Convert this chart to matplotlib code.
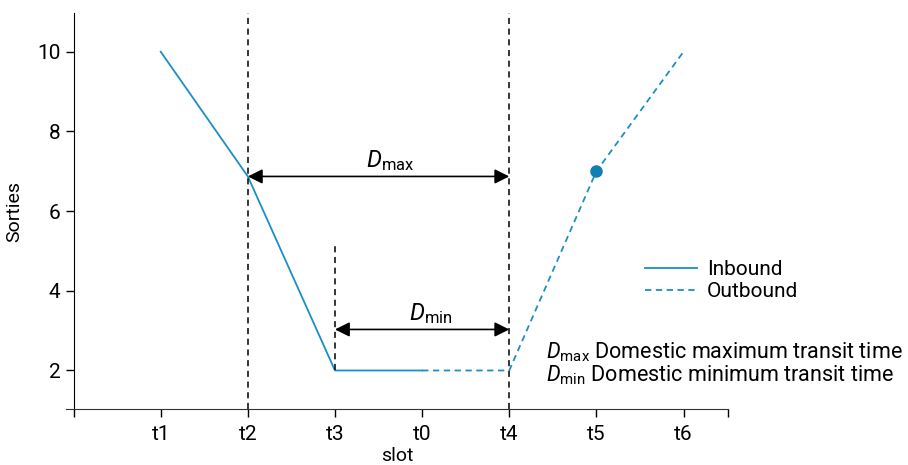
import matplotlib.pyplot as plt

plt.rcParams['font.family'] = ['Roboto', 'DejaVu Sans']
plt.rcParams['mathtext.fontset'] = 'custom'
plt.rcParams['mathtext.rm'] = 'Roboto'
plt.rcParams['mathtext.it'] = 'Roboto:italic'

slots = ['t1', 't2', 't3', 't0', 't4', 't5', 't6']
pos = [1, 2, 3, 4, 5, 6, 7]

# inbound: t1 -> t0, outbound: t0 -> t6
inbound_x = [1, 2, 3, 4]
inbound_y = [10, 6.87, 2, 2]
outbound_x = [4, 5, 6, 7]
outbound_y = [2, 2, 7, 10]
point_x, point_y = 6, 7

dmax_y = 6.87
dmin_y = 3.03
t3_top = 5.12

blue = '#1b8fc4'

fig = plt.figure(figsize=(9.08, 4.65), dpi=100)
ax = fig.add_axes([0.0727, 0.121, 0.729, 0.850])

ax.plot(inbound_x, inbound_y, color=blue, lw=1.3, label='Inbound')
ax.plot(outbound_x, outbound_y, color=blue, lw=1.3, ls=(0, (3.5, 2.5)), label='Outbound')
ax.plot(point_x, point_y, 'o', color='#107fb2', ms=8)

# vertical guides
ax.axvline(2, color='black', lw=1.1, ls=(0, (4, 3)))
ax.axvline(5, color='black', lw=1.1, ls=(0, (4, 3)))
ax.plot([3, 3], [2, t3_top], color='black', lw=1.1, ls=(0, (4, 3)))

arr = dict(arrowstyle='<|-|>', color='black', lw=1.2, mutation_scale=22, shrinkA=0, shrinkB=0)
ax.annotate('', xy=(2, dmax_y), xytext=(5, dmax_y), arrowprops=arr)
ax.annotate('', xy=(3, dmin_y), xytext=(5, dmin_y), arrowprops=arr)
ax.text(3.63, dmax_y + 0.08, r'$D_{\mathrm{max}}$', ha='center', va='bottom', fontsize=17)
ax.text(4.1, dmin_y + 0.08, r'$D_{\mathrm{min}}$', ha='center', va='bottom', fontsize=17)

ax.set_xlim(-0.087, 7.51)
ax.set_ylim(1.04, 10.96)
ax.set_xticks([0] + pos + [7.51])
ax.set_xticklabels([''] + slots + [''])
ax.set_yticks([2, 4, 6, 8, 10])
ax.spines['left'].set_position(('data', 0))
ax.spines['top'].set_visible(False)
ax.spines['right'].set_visible(False)
ax.spines['bottom'].set_color('#333333')
ax.tick_params(axis='both', labelsize=15, length=6, width=1)
ax.tick_params(axis='x', pad=6)
ax.set_xlabel('slot', fontsize=14, labelpad=2)
ax.set_ylabel('Sorties', fontsize=14, labelpad=10)

fig.legend(loc='center left', bbox_to_anchor=(0.71, 0.397), frameon=False,
           fontsize=15, handlelength=2.5, handletextpad=0.5, labelspacing=0.15,
           borderpad=0, borderaxespad=0)

fig.text(0.601, 0.243, r'$D_{\mathrm{max}}$ Domestic maximum transit time', fontsize=15.5, va='center')
fig.text(0.601, 0.193, r'$D_{\mathrm{min}}$ Domestic minimum transit time', fontsize=15.5, va='center')

fig.savefig('out.png', dpi=100)
